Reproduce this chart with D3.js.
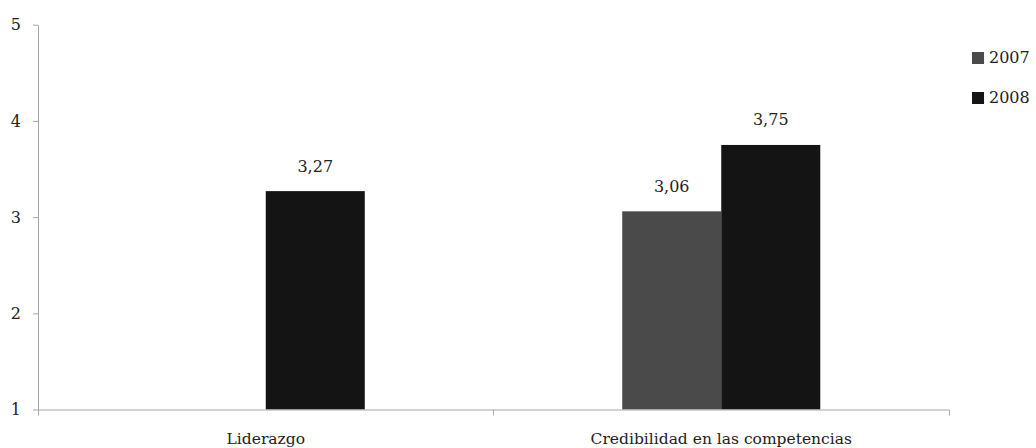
<!DOCTYPE html>
<html>
<head>
<meta charset="utf-8">
<script src="https://cdn.jsdelivr.net/npm/d3@7"></script>
<style>
  html, body { margin: 0; padding: 0; background: #fff; }
  svg { display: block; }
  text { font-family: "DejaVu Serif", serif; fill: #222; }
</style>
</head>
<body>
<svg id="chart" width="1036" height="448"></svg>
<script>
const categories = ["Liderazgo", "Credibilidad en las competencias"];
const seriesNames = ["2007", "2008"];
const values2007 = [null, 3.06];
const values2008 = [3.27, 3.75];
const valueLabels2007 = [null, "3,06"];
const valueLabels2008 = ["3,27", "3,75"];
const yTicks = [1, 2, 3, 4, 5];
const colors = ["#4a4a4a", "#141414"];

const series = [
  { name: seriesNames[0], values: values2007, labels: valueLabels2007, color: colors[0] },
  { name: seriesNames[1], values: values2008, labels: valueLabels2008, color: colors[1] }
];

const svg = d3.select("#chart");
const mLeft = 38, mRight = 949, mTop = 24.7, mBottom = 409.5;
const axisColor = "#a8a8a8";
const fontSize = 16;
const catFontSize = 15.5;

const y = d3.scaleLinear().domain([1, 5]).range([mBottom, mTop]);
const x0 = d3.scaleBand().domain(categories).range([mLeft, mRight]).paddingInner(0).paddingOuter(0);
const x1 = d3.scaleBand().domain(seriesNames).range([0, x0.bandwidth()]).paddingInner(0).paddingOuter(1.3);

// Bars
series.forEach(s => {
  const g = svg.append("g");
  categories.forEach((c, i) => {
    const v = s.values[i];
    if (v == null) return;
    g.append("rect")
      .attr("x", x0(c) + x1(s.name))
      .attr("y", y(v))
      .attr("width", x1.bandwidth())
      .attr("height", y(1) - y(v))
      .attr("fill", s.color);
    svg.append("text")
      .attr("x", x0(c) + x1(s.name) + x1.bandwidth() / 2)
      .attr("y", y(v) - 19.5)
      .attr("text-anchor", "middle")
      .style("font-size", fontSize + "px")
      .text(s.labels[i]);
  });
});

// Y axis
const yAxis = svg.append("g")
  .attr("transform", `translate(${mLeft},0)`)
  .call(d3.axisLeft(y).tickValues(yTicks).tickFormat(d3.format("d")).tickSizeInner(5).tickSizeOuter(0).tickPadding(12));
yAxis.selectAll("path, line").attr("stroke", axisColor);
yAxis.selectAll("text").style("font-size", fontSize + "px").style("font-family", "DejaVu Serif, serif").attr("fill", "#222");

// X axis
const xAxis = svg.append("g")
  .attr("transform", `translate(0,${mBottom})`)
  .call(d3.axisBottom(x0).tickSizeInner(0).tickSizeOuter(6).tickPadding(23));
xAxis.selectAll("path, line").attr("stroke", axisColor);
xAxis.selectAll("text").style("font-size", catFontSize + "px").style("font-family", "DejaVu Serif, serif").attr("fill", "#222");
categories.slice(1).forEach(c => {
  xAxis.append("line")
    .attr("x1", x0(c)).attr("x2", x0(c))
    .attr("y1", 0).attr("y2", 6)
    .attr("stroke", axisColor);
});

// Legend
const legend = svg.append("g").attr("transform", "translate(972,52)");
series.forEach((s, i) => {
  const row = legend.append("g").attr("transform", `translate(0,${i * 40})`);
  row.append("rect").attr("width", 12).attr("height", 12).attr("fill", s.color);
  row.append("text").attr("x", 17).attr("y", 10.5).style("font-size", fontSize + "px").text(s.name);
});
</script>
</body>
</html>
